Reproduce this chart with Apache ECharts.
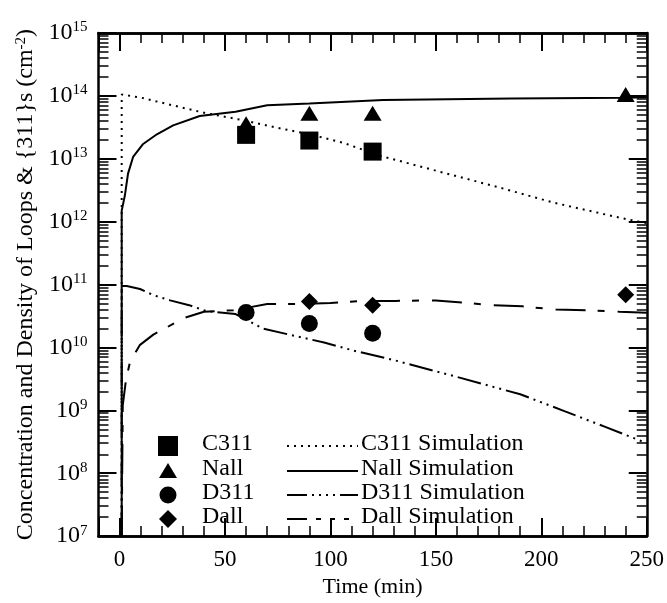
<!DOCTYPE html>
<html><head><meta charset="utf-8">
<script src="https://cdn.jsdelivr.net/npm/echarts@6/dist/echarts.min.js"></script>
<style>html,body{margin:0;padding:0;background:#fff}#c{width:667px;height:603px}</style>
</head><body><div id="c"></div>
<script>
// ---- measured data ----
const c311Time = [60, 90, 120];
const c311Vals = [2.4e13, 1.95e13, 1.3e13];
const nallTime = [60, 90, 120, 240];
const nallVals = [3.6e13, 5.3e13, 5.3e13, 1.05e14];
const d311Time = [60, 90, 120];
const d311Vals = [3.6e10, 2.4e10, 1.68e10];
const dallTime = [90, 120, 240];
const dallVals = [5.4e10, 4.7e10, 6.9e10];

const c311SimTime = [1, 1, 10, 25, 41, 57, 75, 90, 106, 123, 149, 180, 206, 240, 250];
const c311SimVals = [1e7, 1.05e14, 9.4e13, 7.1e13, 5.3e13, 4.2e13, 3.1e13, 2.45e13, 1.8e13, 1.13e13, 6.6e12, 3.5e12, 2.0e12, 1.1e12, 9.5e11];
const nallSimTime = [1, 1, 2.5, 4, 6.4, 11, 17.7, 25.4, 38, 55, 70, 90, 125, 186, 240, 250];
const nallSimVals = [1e7, 1.5e12, 2.6e12, 5.8e12, 1.07e13, 1.7e13, 2.45e13, 3.4e13, 4.8e13, 5.6e13, 7.1e13, 7.6e13, 8.6e13, 9.1e13, 9.3e13, 9.5e13];
const d311SimTime = [1, 1, 3.4, 9.7, 16, 24, 33, 41, 55, 68, 84, 97, 111, 130, 160, 190, 210, 230, 250];
const d311SimVals = [1e7, 9.5e10, 9.5e10, 8.5e10, 6.8e10, 5.6e10, 4.7e10, 3.8e10, 3.4e10, 2.0e10, 1.5e10, 1.2e10, 8.9e9, 6.3e9, 3.4e9, 1.8e9, 1.0e9, 5.5e8, 3.0e8];
const dallSimTime = [1, 1.5, 3, 5, 9.7, 16, 22, 30, 40, 54, 70, 85, 100, 115, 131, 150, 165, 176, 191, 207, 222, 237, 250];
const dallSimVals = [1e7, 1.2e9, 3e9, 6e9, 1.1e10, 1.6e10, 2.05e10, 2.9e10, 3.7e10, 3.9e10, 4.9e10, 4.9e10, 5.1e10, 5.5e10, 5.5e10, 5.6e10, 5.1e10, 4.7e10, 4.5e10, 4.0e10, 3.9e10, 3.7e10, 3.55e10];

const xMin = -10, xMax = 250, yMin = 1e7, yMax = 1e15;
const legendMarkers = ['C311', 'Nall', 'D311', 'Dall'];
const legendLines = ['C311 Simulation', 'Nall Simulation', 'D311 Simulation', 'Dall Simulation'];
const yLabelText = 'Concentration and Density of Loops & {311}s (cm{s|-2})';
const xLabelText = 'Time (min)';

// log minor tick positions (2..9 x 10^n)
const minorTickVals = [];
for (let e = 7; e < 15; e++) for (let k = 2; k <= 9; k++) minorTickVals.push(k * Math.pow(10, e));

const zip = (t, v) => t.map((x, i) => [x, v[i]]);
const FONT = 'Liberation Serif';
const K = '#000';

const GRID = {left: 98.5, top: 33, width: 548.5, height: 517};
const minorLenX = 10 * (xMax - xMin) / GRID.width; // 10 px expressed in x units

const chart = echarts.init(document.getElementById('c'), null, {renderer: 'canvas'});

const baseX = {type: 'value', min: xMin, max: xMax, splitLine: {show: false},
  axisLine: {show: true, onZero: false, lineStyle: {color: K, width: 2.5}}};
const xAxes = [
  Object.assign({}, baseX, {position: 'bottom', interval: 10, axisTick: {inside: true, length: 10, lineStyle: {color: K, width: 1.5}}, axisLabel: {show: false}}),
  Object.assign({}, baseX, {position: 'bottom', minInterval: 50, maxInterval: 50,
    axisTick: {inside: true, length: 18, lineStyle: {color: K, width: 2}},
    axisLabel: {show: true, margin: 12, color: K, fontFamily: FONT, fontSize: 23,
      formatter: v => (v % 50 === 0 ? String(v) : '')},
    name: xLabelText, nameLocation: 'middle', nameGap: 25,
    nameTextStyle: {color: K, fontFamily: FONT, fontSize: 22}}),
  Object.assign({}, baseX, {position: 'top', interval: 10, axisTick: {inside: true, length: 10, lineStyle: {color: K, width: 1.5}}, axisLabel: {show: false}}),
  Object.assign({}, baseX, {position: 'top', minInterval: 50, maxInterval: 50, axisTick: {inside: true, length: 18, lineStyle: {color: K, width: 2}}, axisLabel: {show: false}})
];

const baseY = {type: 'log', logBase: 10, min: yMin, max: yMax, splitLine: {show: false},
  axisLine: {show: true, onZero: false, lineStyle: {color: K, width: 2.5}},
  axisTick: {inside: true, length: 18, lineStyle: {color: K, width: 2}}};
const yAxes = [
  Object.assign({}, baseY, {position: 'left',
    axisLabel: {show: true, margin: 11, color: K, fontFamily: FONT,
      formatter: v => '{b|10}{s|' + Math.round(Math.log10(v)) + '}',
      rich: {b: {fontSize: 24, lineHeight: 26, fontFamily: FONT, color: K},
             s: {fontSize: 15, lineHeight: 12, verticalAlign: 'top', fontFamily: FONT, color: K}}},
    name: yLabelText, nameLocation: 'middle', nameGap: 60, nameRotate: 90,
    nameTextStyle: {color: K, fontFamily: FONT, fontSize: 24,
      rich: {s: {fontSize: 15, lineHeight: 12, verticalAlign: 'top', fontFamily: FONT, color: K}}}}),
  Object.assign({}, baseY, {position: 'right', axisLabel: {show: false}})
];

// minor log ticks on left and right frame, drawn through axis coordinates
const minorTickLines = [];
minorTickVals.forEach(v => {
  minorTickLines.push([{coord: [xMin, v]}, {coord: [xMin + minorLenX, v]}]);
  minorTickLines.push([{coord: [xMax, v]}, {coord: [xMax - minorLenX, v]}]);
});

function simLine(name, t, v, dash) {
  return {name: name, type: 'line', xAxisIndex: 0, yAxisIndex: 0, data: zip(t, v),
    symbol: 'none', smooth: false, silent: true, z: 3,
    lineStyle: {color: K, width: 2, type: dash, cap: 'butt'}};
}
function marks(name, t, v, symbol, size) {
  return {name: name, type: 'scatter', xAxisIndex: 0, yAxisIndex: 0, data: zip(t, v),
    symbol: symbol, symbolSize: size, itemStyle: {color: K, opacity: 1}, z: 6, silent: true};
}

const DASH = {
  c311: [2, 5],
  nall: 'solid',
  d311: [24, 5, 2, 5, 2, 5, 2, 5],
  dall: [30, 12, 7, 13]
};

// legend drawn as graphics
const rowsY = [446, 471, 495, 519];
const mx = 168, tx = 202, lx1 = 287, lx2 = 358, ltx = 361;
const legendGraphics = [];
const mk = [
  {type: 'rect', shape: {x: mx - 10, y: rowsY[0] - 10, width: 20, height: 20}},
  {type: 'polygon', shape: {points: [[mx - 9, rowsY[1] + 7], [mx + 9, rowsY[1] + 7], [mx, rowsY[1] - 8]]}},
  {type: 'circle', shape: {cx: mx, cy: rowsY[2], r: 8.5}},
  {type: 'polygon', shape: {points: [[mx, rowsY[3] - 9], [mx + 9, rowsY[3]], [mx, rowsY[3] + 9], [mx - 9, rowsY[3]]]}}
];
const dashArr = [DASH.c311, null, [20, 5, 2, 5, 2, 5, 2, 5, 2, 5], [20, 9, 5, 9, 5, 9, 5, 20]];
for (let i = 0; i < 4; i++) {
  legendGraphics.push(Object.assign({}, mk[i], {style: {fill: K}}));
  legendGraphics.push({type: 'text', left: tx, top: rowsY[i] - 14,
    style: {text: legendMarkers[i], fill: K, font: '24px "' + FONT + '"'}});
  legendGraphics.push({type: 'line', shape: {x1: lx1, y1: rowsY[i], x2: lx2, y2: rowsY[i]},
    style: {stroke: K, lineWidth: 2, lineDash: dashArr[i]}});
  legendGraphics.push({type: 'text', left: ltx, top: rowsY[i] - 14,
    style: {text: legendLines[i], fill: K, font: '24px "' + FONT + '"'}});
}

const nallSeries = simLine('Nall Simulation', nallSimTime, nallSimVals, DASH.nall);
nallSeries.markLine = {silent: true, symbol: ['none', 'none'], animation: false,
  label: {show: false}, emphasis: {disabled: true},
  lineStyle: {color: K, width: 1.5, type: 'solid'}, data: minorTickLines};

chart.setOption({
  animation: false,
  backgroundColor: '#fff',
  grid: Object.assign({containLabel: false}, GRID),
  xAxis: xAxes,
  yAxis: yAxes,
  graphic: legendGraphics,
  series: [
    simLine('C311 Simulation', c311SimTime, c311SimVals, DASH.c311),
    nallSeries,
    simLine('D311 Simulation', d311SimTime, d311SimVals, DASH.d311),
    simLine('Dall Simulation', dallSimTime, dallSimVals, DASH.dall),
    marks('C311', c311Time, c311Vals, 'rect', 18),
    marks('Nall', nallTime, nallVals, 'triangle', [18, 15]),
    marks('D311', d311Time, d311Vals, 'circle', 17),
    marks('Dall', dallTime, dallVals, 'diamond', 17)
  ]
});
</script></body></html>
